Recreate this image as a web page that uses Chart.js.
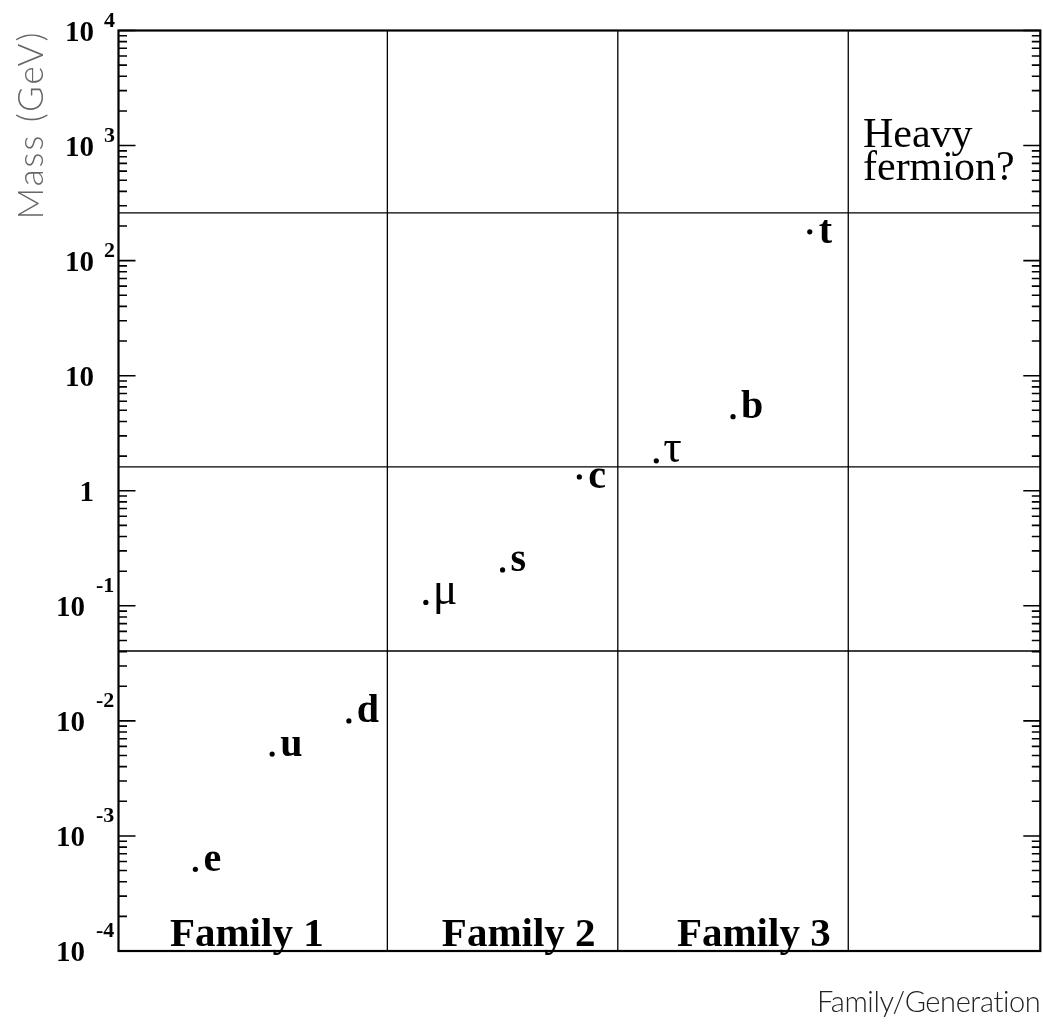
<!DOCTYPE html>
<html>
<head>
<meta charset="utf-8">
<script src="https://cdn.jsdelivr.net/npm/chart.js@4/dist/chart.umd.min.js"></script>
<style>
  html, body { margin: 0; padding: 0; background: #ffffff; }
  canvas { display: block; }
</style>
</head>
<body>
<canvas id="c" width="1043" height="1028"></canvas>
<script>
// ---- data ----
const particles   = ['e', 'u', 'd', 'μ', 's', 'c', 'τ', 'b', 't'];
const positions   = [0.667, 1.0, 1.333, 1.667, 2.0, 2.333, 2.667, 3.0, 3.333];
const massesGeV   = [0.000513, 0.00515, 0.0100, 0.107, 0.205, 1.32, 1.82, 4.40, 178];
const familyNames = ['Family 1', 'Family 2', 'Family 3'];
const familyCentres = [0.89, 2.07, 3.09];
const xDividers   = [1.5, 2.5, 3.5];
const yDividers   = [260, 1.61, 0.0405];
const decades     = [-4, -3, -2, -1, 0, 1, 2, 3, 4];
const heavyNote   = ['Heavy', 'fermion?'];
const heavyNoteX  = 3.564;
const xRange      = [1 / 3, 13 / 3];
const yRange      = [1e-4, 1e4];

// ---- styles (kept out of data) ----
const midDot   = [false, false, false, false, false, true, false, false, true];
const greek    = [false, false, false, true, false, false, true, false, false];
const SERIF    = '"Liberation Serif", "Times New Roman", serif';
const THIN     = 'Lato, "Open Sans", "DejaVu Sans", sans-serif';

const rootPlugin = {
  id: 'rootStyle',
  beforeDatasetsDraw(chart) {
    const { ctx, chartArea: a, scales: { x, y } } = chart;
    ctx.save();
    ctx.strokeStyle = '#000';
    ctx.lineWidth = 1.3;
    ctx.beginPath();
    xDividers.forEach(v => {
      const px = x.getPixelForValue(v);
      ctx.moveTo(px, a.top); ctx.lineTo(px, a.bottom);
    });
    yDividers.forEach(v => {
      const py = y.getPixelForValue(v);
      ctx.moveTo(a.left, py); ctx.lineTo(a.right, py);
    });
    ctx.stroke();
    ctx.restore();
  },
  afterDatasetsDraw(chart) {
    const { ctx, chartArea: a, scales: { x, y } } = chart;
    ctx.save();
    // ticks on left and right
    ctx.strokeStyle = '#000';
    ctx.lineWidth = 1.6;
    ctx.beginPath();
    decades.forEach(k => {
      for (let m = 1; m <= 9; m++) {
        const v = m * Math.pow(10, k);
        if (v > yRange[1] * 1.0001) continue;
        const py = y.getPixelForValue(v);
        const len = (m === 1) ? 17 : 8.5;
        ctx.moveTo(a.left, py); ctx.lineTo(a.left + len, py);
        ctx.moveTo(a.right, py); ctx.lineTo(a.right - len, py);
      }
    });
    ctx.stroke();

    // tick labels
    ctx.fillStyle = '#000';
    decades.forEach(k => {
      const py = y.getPixelForValue(Math.pow(10, k));
      ctx.textAlign = 'right';
      ctx.textBaseline = 'alphabetic';
      ctx.font = 'bold 29px ' + SERIF;
      if (k === 0) { ctx.fillText('1', 94, py + 10); return; }
      if (k === 1) { ctx.fillText('10', 94, py + 10); return; }
      if (k > 0) {
        ctx.fillText('10', 94, py + 10);
        ctx.textAlign = 'left';
        ctx.font = 'bold 22px ' + SERIF;
        ctx.fillText(String(k), 104, py - 4);
      } else {
        ctx.fillText('10', 85, py + 10);
        ctx.textAlign = 'left';
        ctx.font = 'bold 22px ' + SERIF;
        ctx.fillText('-' + String(-k), 96, py - 14);
      }
    });

    // particle labels
    ctx.textAlign = 'left';
    ctx.textBaseline = 'alphabetic';
    particles.forEach((p, i) => {
      const px = x.getPixelForValue(positions[i]);
      const py = y.getPixelForValue(massesGeV[i]);
      ctx.font = (greek[i] ? '46px ' : 'bold 40px ') + SERIF;
      const dy = midDot[i] ? 11 : 1.5;
      const dx = midDot[i] ? 9 : (greek[i] ? 7 : 8);
      ctx.fillText(p, px + dx, py + dy);
    });

    // family labels
    ctx.textAlign = 'center';
    ctx.font = 'bold 41px ' + SERIF;
    familyNames.forEach((f, i) => {
      ctx.fillText(f, x.getPixelForValue(familyCentres[i]), a.bottom - 5);
    });

    // heavy fermion note
    ctx.textAlign = 'left';
    ctx.font = '42px ' + SERIF;
    const hx = x.getPixelForValue(heavyNoteX);
    ctx.fillText(heavyNote[0], hx, y.getPixelForValue(1000) + 1);
    ctx.fillText(heavyNote[1], hx, y.getPixelForValue(1000) + 34);

    // frame
    ctx.lineWidth = 2.2;
    ctx.strokeRect(a.left, a.top, a.right - a.left, a.bottom - a.top);

    // axis titles
    ctx.fillStyle = '#666';
    ctx.font = '300 35px ' + THIN;
    ctx.letterSpacing = '2px';
    ctx.save();
    ctx.translate(43, a.top);
    ctx.rotate(-Math.PI / 2);
    ctx.textAlign = 'right';
    ctx.textBaseline = 'alphabetic';
    ctx.fillText('Mass (GeV)', 0, 0);
    ctx.restore();

    ctx.fillStyle = '#222';
    ctx.font = '300 29px ' + THIN;
    ctx.letterSpacing = '-0.4px';
    ctx.textAlign = 'right';
    ctx.fillText('Family/Generation', a.right, 1012);
    ctx.letterSpacing = '0px';
    ctx.restore();
  }
};

new Chart(document.getElementById('c'), {
  type: 'scatter',
  data: {
    datasets: [{
      data: particles.map((p, i) => ({ x: positions[i], y: massesGeV[i] })),
      pointRadius: 2.6,
      pointHoverRadius: 2.6,
      pointBackgroundColor: '#000',
      pointBorderWidth: 0,
      showLine: false
    }]
  },
  options: {
    responsive: false,
    devicePixelRatio: 1,
    animation: false,
    events: [],
    layout: { padding: { left: 118.5, right: 2.7, top: 30.5, bottom: 77 } },
    plugins: { legend: { display: false }, tooltip: { enabled: false } },
    scales: {
      x: { type: 'linear', display: false, min: xRange[0], max: xRange[1] },
      y: { type: 'logarithmic', display: false, min: yRange[0], max: yRange[1] }
    }
  },
  plugins: [rootPlugin]
});
</script>
</body>
</html>
